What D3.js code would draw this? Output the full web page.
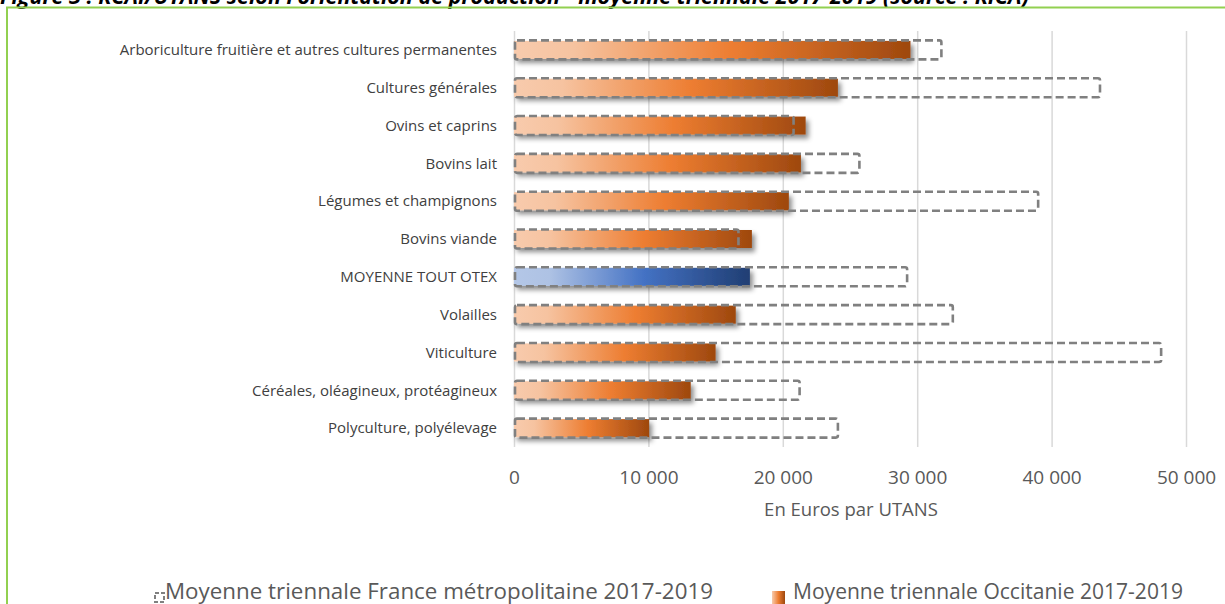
<!DOCTYPE html>
<html>
<head>
<meta charset="utf-8">
<script src="https://cdn.jsdelivr.net/npm/d3@7"></script>
<style>
  body { margin: 0; background: #fff; }
  text { font-family: "Open Sans", "Liberation Sans", sans-serif; }
</style>
</head>
<body>
<div id="chart"></div>
<script>
// data
const categories = [
  'Arboriculture fruitière et autres cultures permanentes',
  'Cultures générales',
  'Ovins et caprins',
  'Bovins lait',
  'Légumes et champignons',
  'Bovins viande',
  'MOYENNE TOUT OTEX ',
  'Volailles',
  'Viticulture',
  'Céréales, oléagineux, protéagineux',
  'Polyculture, polyélevage'
]
const occitanie = [29500, 24100, 21700, 21350, 20450, 17700, 17550, 16500, 15000, 13150, 10050]
const france = [31800, 43600, 20800, 25700, 39000, 16700, 29250, 32650, 48150, 21250, 24100]
const ticks = [0, 10000, 20000, 30000, 40000, 50000]
const seriesNames = ['Moyenne triennale France métropolitaine 2017-2019', 'Moyenne triennale Occitanie 2017-2019']
const title = 'Figure 3 : RCAI/UTANS selon l\u2019orientation de production - moyenne triennale 2017-2019 (source : RICA)'

const config = {
  width: 1225,
  height: 604,
  left: 514,
  right: 1186,
  top: 31,
  bottom: 447,
  barHeight: 18
}

const svg = d3.select('#chart').append('svg')
  .attr('width', config.width)
  .attr('height', config.height)

const defs = svg.append('defs')

// gradients
function gradient(id, stops) {
  const g = defs.append('linearGradient').attr('id', id)
    .attr('x1', 0).attr('x2', 1).attr('y1', 0).attr('y2', 0)
  stops.forEach(s => g.append('stop').attr('offset', s[0]).attr('stop-color', s[1]))
}
gradient('orange', [[0, '#f8cbad'], [0.15, '#f6c3a0'], [0.55, '#ed7d31'], [1, '#9e480e']])
gradient('blue', [[0, '#b4c7e7'], [0.15, '#aec2e4'], [0.55, '#4472c4'], [1, '#203e73']])
gradient('legendOrange', [[0, '#f8cbad'], [0.5, '#ed7d31'], [1, '#9e480e']])

const shadow = defs.append('filter').attr('id', 'shadow')
  .attr('x', '-5%').attr('y', '-40%').attr('width', '115%').attr('height', '200%')
shadow.append('feDropShadow')
  .attr('dx', 3).attr('dy', 4).attr('stdDeviation', 2.5)
  .attr('flood-color', '#000').attr('flood-opacity', 0.45)

// title (cut by the top edge) and frame
svg.append('text')
  .attr('x', 0).attr('y', 4)
  .attr('font-size', 21.5).attr('font-weight', 'bold').attr('font-style', 'italic')
  .attr('fill', '#000')
  .text(title)

svg.append('rect')
  .attr('x', 7).attr('y', 7.5)
  .attr('width', config.width + 20).attr('height', config.height + 20)
  .attr('fill', 'none').attr('stroke', '#92d050').attr('stroke-width', 2)

// scales
const x = d3.scaleLinear()
  .domain([0, 50000])
  .range([config.left, config.right])

const y = d3.scaleBand()
  .domain(categories)
  .range([config.top, config.bottom])
  .paddingInner(0.52)
  .paddingOuter(0.26)

// grid
svg.append('g')
  .attr('class', 'grid')
  .attr('transform', `translate(0, ${config.bottom})`)
  .call(d3.axisBottom(x).tickValues(ticks).tickSize(-(config.bottom - config.top)).tickFormat(''))
  .call(g => g.select('.domain').remove())
  .call(g => g.selectAll('line').attr('stroke', '#d9d9d9').attr('stroke-width', 1.5))

// tick labels
const fmt = v => d3.format(',')(v).replace(/,/g, ' ')
svg.append('g')
  .attr('transform', `translate(0, ${config.bottom})`)
  .call(d3.axisBottom(x).tickValues(ticks).tickSize(0).tickPadding(24).tickFormat(fmt))
  .call(g => g.select('.domain').remove())
  .call(g => g.selectAll('text')
    .attr('font-size', 19).attr('fill', '#595959')
    .attr('font-family', '"Open Sans", sans-serif'))

svg.append('text')
  .attr('x', 851).attr('y', 516)
  .attr('text-anchor', 'middle')
  .attr('font-size', 18.5).attr('fill', '#595959')
  .text('En Euros par UTANS')

// category labels
svg.append('g')
  .selectAll('text')
  .data(categories)
  .join('text')
  .attr('x', 497)
  .attr('y', d => y(d) + y.bandwidth() / 2)
  .attr('dy', '0.35em')
  .attr('text-anchor', 'end')
  .attr('font-size', 15).attr('fill', '#404040')
  .text(d => d)

// Occitanie bars
const barY = d => y(d) + y.bandwidth() / 2 - config.barHeight / 2
svg.append('g')
  .selectAll('rect')
  .data(categories)
  .join('rect')
  .attr('x', x(0))
  .attr('y', d => barY(d))
  .attr('width', (d, i) => x(occitanie[i]) - x(0))
  .attr('height', config.barHeight)
  .attr('fill', d => d.startsWith('MOYENNE') ? 'url(#blue)' : 'url(#orange)')
  .attr('filter', 'url(#shadow)')

// France dashed boxes
svg.append('g')
  .selectAll('rect')
  .data(categories)
  .join('rect')
  .attr('x', x(0) + 1)
  .attr('y', d => barY(d) - 0.5)
  .attr('width', (d, i) => x(france[i]) - x(0) - 1)
  .attr('height', config.barHeight + 1)
  .attr('rx', 2)
  .attr('fill', 'none')
  .attr('stroke', '#808080')
  .attr('stroke-width', 2.6)
  .attr('stroke-dasharray', '8,4')

// legend
const legend = svg.append('g').attr('font-size', 21).attr('fill', '#595959')
legend.append('rect')
  .attr('x', 155).attr('y', 593).attr('width', 9).attr('height', 9)
  .attr('fill', 'none').attr('stroke', '#808080').attr('stroke-width', 2).attr('stroke-dasharray', '4,2')
legend.append('text').attr('x', 165).attr('y', 605).attr('dy', '-0.3em')
  .attr('textLength', 548).attr('lengthAdjust', 'spacingAndGlyphs')
  .text(seriesNames[0])

legend.append('rect')
  .attr('x', 772).attr('y', 591).attr('width', 13).attr('height', 13)
  .attr('fill', 'url(#legendOrange)')
legend.append('text').attr('x', 793).attr('y', 605).attr('dy', '-0.3em')
  .attr('textLength', 390).attr('lengthAdjust', 'spacingAndGlyphs')
  .text(seriesNames[1])
</script>
</body>
</html>
